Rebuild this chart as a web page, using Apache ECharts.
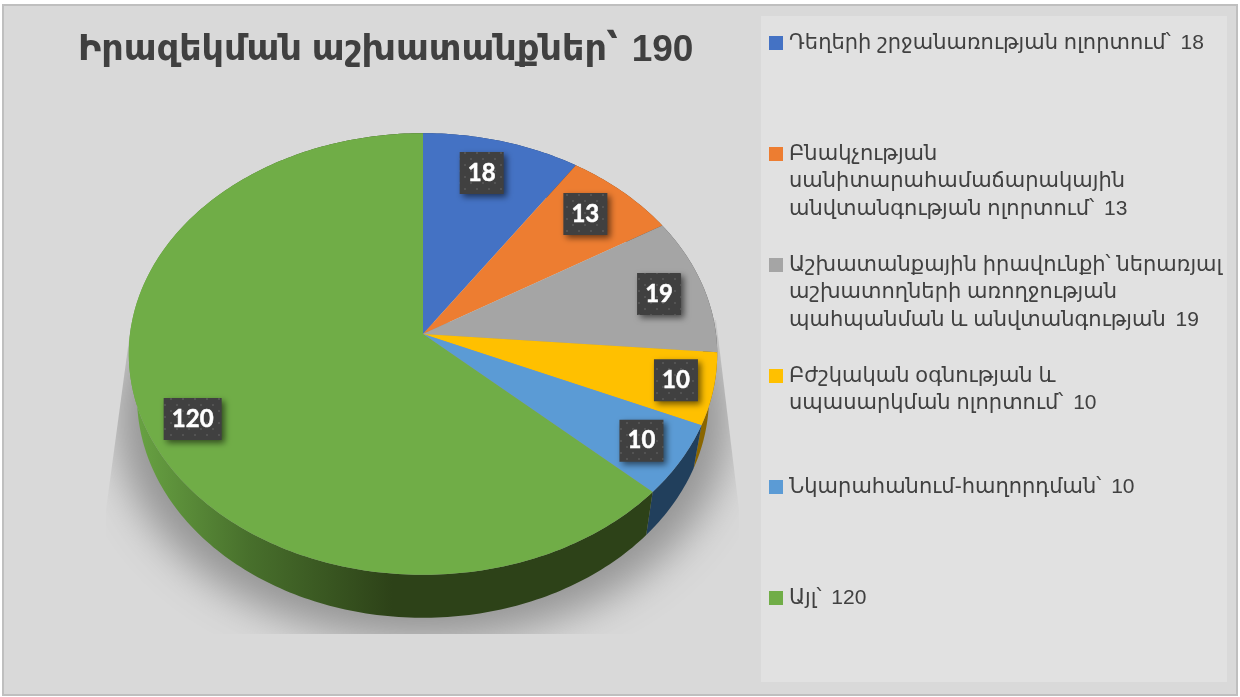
<!DOCTYPE html>
<html>
<head>
<meta charset="utf-8">
<style>
  html, body { margin: 0; padding: 0; background: #fff; }
  #chart { width: 1240px; height: 697px; }
</style>
<script src="https://cdn.jsdelivr.net/npm/echarts@6/dist/echarts.min.js"></script>
</head>
<body>
<div id="chart"></div>
<script>
const titleText = "Իրազեկման աշխատանքներ՝ {n|190}";
const legendLines = [
  ["Դեղերի շրջանառության ոլորտում՝ {n|18}"],
  ["Բնակչության", "սանիտարահամաճարակային", "անվտանգության ոլորտում՝ {n|13}"],
  ["Աշխատանքային իրավունքի՝ ներառյալ", "աշխատողների առողջության", "պահպանման և անվտանգության {n|19}"],
  ["Բժշկական օգնության և", "սպասարկման ոլորտում՝ {n|10}"],
  ["Նկարահանում-հաղորդման՝ {n|10}"],
  ["Այլ՝ {n|120}"]
];
const values = [18, 13, 19, 10, 10, 120];
const colors = ["#4472c4", "#ed7d31", "#a5a5a5", "#ffc000", "#5b9bd5", "#70ad47"];
const sideColors = ["#223962", "#774018", "#535353", "#8a6600", "#213f5c", "#2d4218"];
// label placement inside each slice: fraction of the radius, angle nudge in degrees
const labelRadius = [0.816, 0.82, 0.84, 0.872, 0.853, 0.847];
const labelNudge = [-1.8, -1.1, 0.5, -0.5, 0, -2.6];

// perspective disc
const cx = 423, cy = 334, rx = 293, ry = 219, tilt = 0.0905;
const depth = 43, bottomScale = 0.972;

const total = values.reduce((s, v) => s + v, 0);
const startAngles = [];
values.reduce((s, v, i) => { startAngles[i] = s; return s + v; }, 0);
const toAngle = (v) => (v / total) * 360;

function project(deg, r, scaleX, dy) {
  const t = (deg * Math.PI) / 180;
  const u = r * Math.sin(t), v = r * Math.cos(t);
  const d = 1 + tilt * v;
  return [cx + (rx * scaleX * u) / d, cy + dy - (ry * v) / d];
}

function rim(from, to, scaleX, dy) {
  const pts = [];
  const steps = Math.max(2, Math.ceil(to - from));
  for (let i = 0; i <= steps; i++) {
    pts.push(project(from + ((to - from) * i) / steps, 1, scaleX, dy));
  }
  return pts;
}

function sliceRange(i, val) {
  const from = toAngle(startAngles[i]);
  return [from, from + toAngle(val)];
}

// dotted texture of the data labels
const dots = document.createElement("canvas");
dots.width = 12;
dots.height = 12;
const dotsCtx = dots.getContext("2d");
dotsCtx.fillStyle = "#404040";
dotsCtx.fillRect(0, 0, 12, 12);
dotsCtx.fillStyle = "#535353";
dotsCtx.fillRect(2, 2, 2, 2);
dotsCtx.fillRect(8, 8, 2, 2);

const chart = echarts.init(document.getElementById("chart"));

const sideGreen = new echarts.graphic.LinearGradient(130, 0, 392, 0, [
  { offset: 0, color: "#6aa544" },
  { offset: 0.45, color: "#48702c" },
  { offset: 1, color: "#2d4218" }
], true);

const latin = "'Liberation Sans', 'DejaVu Sans', sans-serif";

const graphicItems = [
  { type: "rect", shape: { x: 3, y: 5, width: 1234, height: 690 }, style: { fill: "#d9d9d9", stroke: "#bfbfbf", lineWidth: 2 }, z: -2 },
  { type: "rect", shape: { x: 761, y: 16, width: 466, height: 666 }, style: { fill: "#e1e1e1" }, z: -1 }
];
legendLines.forEach((lines, i) => {
  const top = 36 + i * 111;
  graphicItems.push({ type: "rect", shape: { x: 769, y: top, width: 14, height: 14 }, style: { fill: colors[i] } });
  graphicItems.push({
    type: "text", x: 789, y: top - 7,
    style: {
      text: lines.join("\n"), fill: "#404040", font: "21px " + latin, lineHeight: 27.7,
      rich: { n: { font: "21px 'Liberation Sans'", fill: "#404040", lineHeight: 27.7, padding: [0, 0, 0, 4] } }
    }
  });
});

// the shadow polygon sits off canvas, only its blur lands on the chart
const shadowShift = 3000;

chart.setOption({
  animation: false,
  title: {
    text: titleText, left: 73, top: 27,
    textStyle: {
      fontFamily: latin, fontSize: 35, fontWeight: "bold", color: "#404040",
      rich: { n: { fontFamily: "Liberation Sans", fontSize: 37, fontWeight: "bold", color: "#404040", padding: [0, 0, 0, 4] } }
    }
  },
  graphic: graphicItems,
  series: [
    {
      type: "custom", coordinateSystem: "none", z: 1, silent: true,
      data: [total],
      renderItem() {
        return {
          type: "polygon",
          shape: { points: rim(0, 360, 1.04, depth).map((p) => [p[0] - shadowShift, p[1]]) },
          style: { fill: "#000", shadowBlur: 40, shadowOffsetX: shadowShift, shadowOffsetY: 22, shadowColor: "#959595" },
          clipPath: {
            type: "polygon",
            shape: { points: [[131, 325], [106, 510], [106, 634], [740, 634], [739, 510], [716, 320]] }
          }
        };
      }
    },
    {
      // side wall
      type: "custom", coordinateSystem: "none", z: 2, silent: true,
      data: values,
      renderItem(params, api) {
        const i = params.dataIndex;
        const [from, to] = sliceRange(i, api.value(0));
        const top = rim(from, to, 1, 0);
        const bottom = rim(from, to, bottomScale, depth).reverse();
        return {
          type: "polygon",
          shape: { points: top.concat(bottom) },
          style: { fill: i === 5 ? sideGreen : sideColors[i] }
        };
      }
    },
    {
      // top face
      type: "custom", coordinateSystem: "none", z: 3, silent: true,
      data: values,
      renderItem(params, api) {
        const i = params.dataIndex;
        const [from, to] = sliceRange(i, api.value(0));
        return {
          type: "polygon",
          shape: { points: [[cx, cy]].concat(rim(from, to, 1, 0)) },
          style: { fill: colors[i] }
        };
      }
    },
    {
      // data labels
      type: "custom", coordinateSystem: "none", z: 4, silent: true,
      data: values,
      renderItem(params, api) {
        const i = params.dataIndex;
        const val = api.value(0);
        const [from, to] = sliceRange(i, val);
        const p = project((from + to) / 2 + labelNudge[i], labelRadius[i], 1, 0);
        const w = val >= 100 ? 58 : 44, h = 42;
        return {
          type: "group",
          children: [
            {
              type: "rect",
              shape: { x: p[0] - w / 2, y: p[1] - h / 2, width: w, height: h },
              style: {
                fill: { image: dots, repeat: "repeat" },
                shadowBlur: 6, shadowOffsetX: 3, shadowOffsetY: 3, shadowColor: "rgba(0,0,0,0.55)"
              }
            },
            {
              type: "text",
              x: p[0], y: p[1],
              style: {
                text: String(val), fill: "#fff", stroke: "#fff", lineWidth: 0.5, align: "center", verticalAlign: "middle",
                font: "bold 24px Lato, 'Open Sans', sans-serif"
              }
            }
          ]
        };
      }
    }
  ]
});
</script>
</body>
</html>
